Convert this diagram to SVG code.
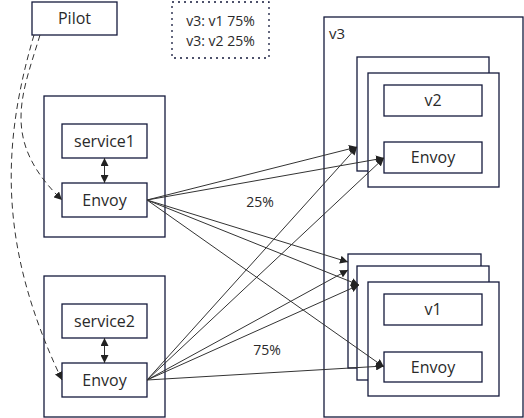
<svg xmlns="http://www.w3.org/2000/svg" width="524" height="418" viewBox="0 0 524 418">
<defs>
<marker id="ah" viewBox="0 0 10 10" refX="10" refY="5" markerWidth="8" markerHeight="8" markerUnits="userSpaceOnUse" orient="auto-start-reverse">
<path d="M0,0 L10,5 L0,10 z" fill="#222"/>
</marker>
</defs>
<style>
.box{fill:#fff;stroke:#141a3c;stroke-width:1.3}
.t{font-family:"Open Sans","Noto Sans",sans-serif;fill:#2a2a2a;text-anchor:middle}
.c{fill:none;stroke:#333;stroke-width:1}
.d{fill:none;stroke:#333;stroke-width:1;stroke-dasharray:6,4}
</style>
<rect width="524" height="418" fill="#fff"/>
<g id="pilot"><rect class="box" x="32" y="2" width="85" height="33"/><text class="t" x="74.5" y="24" font-size="16">Pilot</text></g>
<g id="rules"><rect x="172" y="2" width="97" height="56" fill="none" stroke="#141a3c" stroke-width="1.3" stroke-dasharray="2,4"/><text class="t" x="220.5" y="26" font-size="14">v3: v1 75%</text><text class="t" x="220.5" y="46" font-size="14">v3: v2 25%</text></g>
<g id="pod1"><rect class="box" x="44" y="96" width="121" height="141"/></g>
<g id="service1"><rect class="box" x="62" y="124" width="85" height="34"/><text class="t" x="104.5" y="147" font-size="16">service1</text></g>
<g id="envoy1"><rect class="box" x="62" y="183" width="85" height="34"/><text class="t" x="104.5" y="206" font-size="16">Envoy</text></g>
<g id="pod2"><rect class="box" x="44" y="276" width="121" height="141"/></g>
<g id="service2"><rect class="box" x="62" y="304" width="85" height="34"/><text class="t" x="104.5" y="327" font-size="16">service2</text></g>
<g id="envoy2"><rect class="box" x="62" y="363" width="85" height="34"/><text class="t" x="104.5" y="386" font-size="16">Envoy</text></g>
<g id="v3"><rect class="box" x="324" y="17" width="199" height="400"/><text x="329" y="39" font-size="15" font-family="Open Sans,Noto Sans,sans-serif" fill="#2a2a2a">v3</text></g>
<g id="v2stack"><rect class="box" x="357" y="57" width="132" height="114"/><rect class="box" x="368" y="73" width="131" height="114"/></g>
<g id="v2"><rect class="box" x="384" y="85" width="98" height="31"/><text class="t" x="433" y="106" font-size="16">v2</text></g>
<g id="envoyv2"><rect class="box" x="384" y="142" width="98" height="31"/><text class="t" x="433" y="163" font-size="16">Envoy</text></g>
<g id="v1stack"><rect class="box" x="348" y="254" width="133" height="114"/><rect class="box" x="357" y="266" width="132" height="114"/><rect class="box" x="368" y="282" width="131" height="114"/></g>
<g id="v1"><rect class="box" x="384" y="294" width="98" height="31"/><text class="t" x="433" y="315" font-size="16">v1</text></g>
<g id="envoyv1"><rect class="box" x="384" y="352" width="98" height="30"/><text class="t" x="433" y="373" font-size="16">Envoy</text></g>
<g id="connectors">
<line class="c" x1="104.5" y1="158" x2="104.5" y2="183" marker-start="url(#ah)" marker-end="url(#ah)"/>
<line class="c" x1="104.5" y1="338" x2="104.5" y2="363" marker-start="url(#ah)" marker-end="url(#ah)"/>
<path class="d" d="M40,35 C22,95 0,140 62,200" marker-end="url(#ah)"/>
<path class="d" d="M34,35 C0,150 0,250 62,380" marker-end="url(#ah)"/>
<line class="c" x1="147" y1="200" x2="357" y2="147" marker-end="url(#ah)"/>
<line class="c" x1="147" y1="200" x2="384" y2="158" marker-end="url(#ah)"/>
<line class="c" x1="147" y1="200" x2="348" y2="262" marker-end="url(#ah)"/>
<line class="c" x1="147" y1="200" x2="359" y2="285" marker-end="url(#ah)"/>
<line class="c" x1="147" y1="200" x2="384" y2="367" marker-end="url(#ah)"/>
<line class="c" x1="147" y1="380" x2="357" y2="147" marker-end="url(#ah)"/>
<line class="c" x1="147" y1="380" x2="384" y2="158" marker-end="url(#ah)"/>
<line class="c" x1="147" y1="380" x2="348" y2="270" marker-end="url(#ah)"/>
<line class="c" x1="147" y1="380" x2="359" y2="285" marker-end="url(#ah)"/>
<line class="c" x1="147" y1="380" x2="384" y2="366" marker-end="url(#ah)"/>
</g>
<g id="labels"><text class="t" x="260" y="207" font-size="14">25%</text><text class="t" x="267" y="355" font-size="14">75%</text></g>
</svg>
